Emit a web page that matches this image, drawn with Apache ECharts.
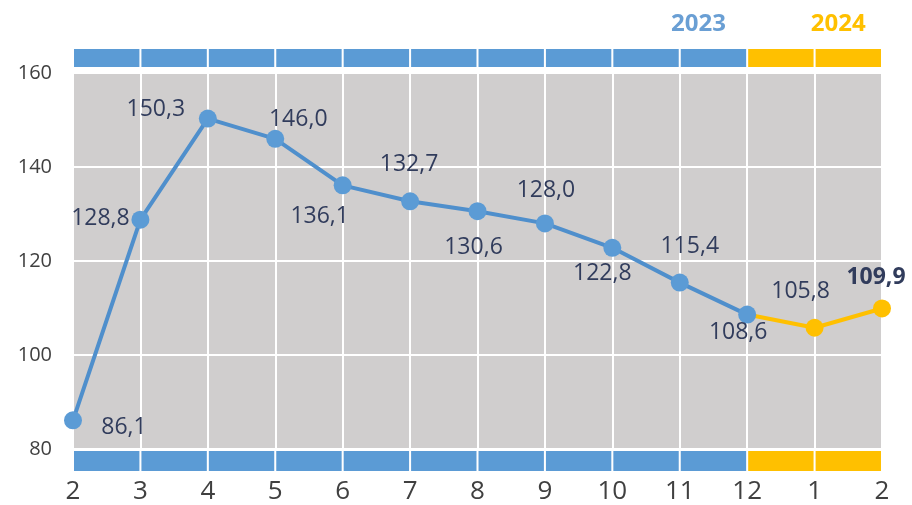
<!DOCTYPE html>
<html><head><meta charset="utf-8">
<script src="https://cdn.jsdelivr.net/npm/echarts@6/dist/echarts.min.js"></script>
<style>html,body{margin:0;padding:0;background:#fff}#c{width:912px;height:505px}</style>
</head><body><div id="c"></div>
<script>
// ---- data ----
const months = ['2','3','4','5','6','7','8','9','10','11','12','1','2'];
const values2023 = [86.1,128.8,150.3,146.0,136.1,132.7,130.6,128.0,122.8,115.4,108.6];
const values2024 = [108.6,105.8,109.9];           // months 12, 1, 2
const segmentYears = ['2023','2023','2023','2023','2023','2023','2023','2023','2023','2023','2024','2024'];
const yearLabels = ['2023','2024'];
const yTicks = [80,100,120,140,160];

// ---- styles ----
const BLUE = '#5b9bd5', LINEBLUE = '#4f8fcc', GOLD = '#ffc000', TXT = '#313c5c', AX = '#404040';
const FONT = 'Open Sans';
const yearColor = {'2023':'#6a9fd4','2024':GOLD};
// label offsets (px) relative to the point, by index in the combined month list
const labelOffsets = [[51,7],[-40,-1],[-52,-9],[23,-19],[-23,31],[-1,-37],[-4,36],[1,-33],[-10,26],[10,-36],[-9,18],[-14,-36],[-6,-31]];

const fmt = v => v.toFixed(1).replace('.', ',');
const n23 = values2023.length;

const blueData = months.map((m,i) => i < n23 ? {
  value: values2023[i],
  label: {offset: labelOffsets[i]}
} : '-');
const goldData = months.map((m,i) => {
  const j = i - (n23 - 1);
  if (j < 0) return '-';
  if (j === 0) return {value: values2024[0], symbol:'none', label:{show:false}};
  return {value: values2024[j], label:{offset: labelOffsets[i], fontWeight: j === values2024.length-1 ? 'bold' : 'normal'}};
});

const segNames = segmentYears.map((y,i) => 's'+i);
const segData = segmentYears.map(y => ({value:1, itemStyle:{color: y==='2023'?BLUE:GOLD}}));
// last segment of each year carries the year label
const lastIdx = {};
segmentYears.forEach((y,i) => lastIdx[y] = i);

const chart = echarts.init(document.getElementById('c'), null, {renderer:'canvas'});
const lineLabel = {
  show:true, position:'inside', color:TXT, fontSize:23, fontFamily:FONT,
  formatter: p => fmt(p.value)
};
chart.setOption({
  animation:false,
  backgroundColor:'#ffffff',
  grid:[
    {left:73, right:30, top:73, bottom:56, show:true, backgroundColor:'#d0cece', borderWidth:0},
    {left:73, right:30, top:49, height:18},
    {left:73, right:30, top:451, height:20}
  ],
  xAxis:[
    {gridIndex:0, type:'category', data:months, boundaryGap:false,
     axisLine:{show:false}, axisTick:{show:false},
     splitLine:{show:true, lineStyle:{color:'#ffffff', width:2}},
     axisLabel:{interval:0, margin:30, fontSize:26, color:AX, fontFamily:FONT}},
    {gridIndex:1, type:'category', data:segNames, position:'top',
     axisLine:{show:false}, axisTick:{show:false}, splitLine:{show:false},
     axisLabel:{interval:0, margin:13, fontFamily:FONT,
       formatter:(v,i) => {
         const y = yearLabels.find(yy => lastIdx[yy] === i);
         return y ? '{y' + y + '|' + y + '}' : '';
       },
       rich:{
         y2023:{color:yearColor['2023'], fontSize:24, fontWeight:'bold', fontFamily:FONT, padding:[0,30,0,0]},
         y2024:{color:yearColor['2024'], fontSize:24, fontWeight:'bold', fontFamily:FONT, padding:[0,20,0,0]}
       }}},
    {gridIndex:2, type:'category', data:segNames,
     axisLine:{show:false}, axisTick:{show:false}, axisLabel:{show:false}, splitLine:{show:false}}
  ],
  yAxis:[
    {gridIndex:0, type:'value', min:yTicks[0], max:yTicks[yTicks.length-1], interval:20,
     axisLine:{show:false}, axisTick:{show:false},
     splitLine:{show:true, lineStyle:{color:'#ffffff', width:2}},
     axisLabel:{margin:21, fontSize:20, color:AX, fontFamily:FONT}},
    {gridIndex:1, type:'value', min:0, max:1, show:false},
    {gridIndex:2, type:'value', min:0, max:1, show:false}
  ],
  series:[
    {type:'bar', xAxisIndex:1, yAxisIndex:1, data:segData, barCategoryGap:'3%', silent:true},
    {type:'bar', xAxisIndex:2, yAxisIndex:2, data:segData, barCategoryGap:'3%', silent:true},
    {type:'line', xAxisIndex:0, yAxisIndex:0, data:goldData, z:3,
     symbol:'circle', symbolSize:18, lineStyle:{color:GOLD, width:4},
     itemStyle:{color:GOLD}, label:lineLabel},
    {type:'line', xAxisIndex:0, yAxisIndex:0, data:blueData, z:4,
     symbol:'circle', symbolSize:18, lineStyle:{color:LINEBLUE, width:4},
     itemStyle:{color:BLUE}, label:lineLabel}
  ]
});
</script></body></html>
